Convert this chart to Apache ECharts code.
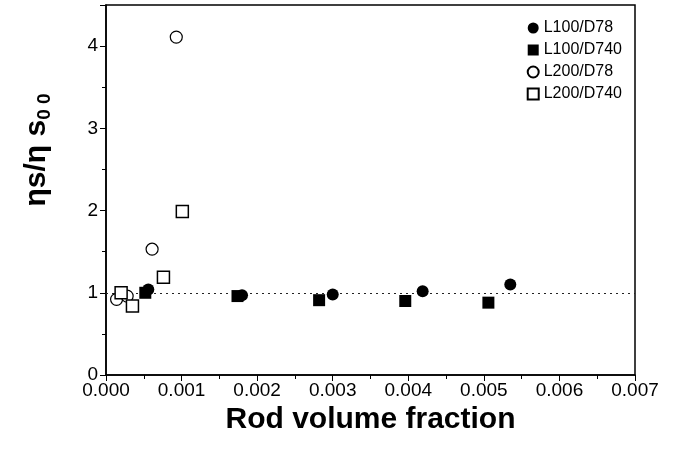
<!DOCTYPE html>
<html>
<head>
<meta charset="utf-8">
<script src="https://cdn.jsdelivr.net/npm/echarts@6/dist/echarts.min.js"></script>
<style>
  html, body { margin: 0; padding: 0; background: #fff; }
  #chart { width: 673px; height: 449px; }
</style>
</head>
<body>
<div id="chart"></div>
<script>
// values: [rod volume fraction, eta ratio]
const L100_D78 = [[0.00056, 1.04], [0.0018, 0.97], [0.0030, 0.98], [0.00419, 1.02], [0.00535, 1.10]];
const L100_D740 = [[0.00052, 1.00], [0.00174, 0.96], [0.00282, 0.91], [0.00396, 0.90], [0.00506, 0.88]];
const L200_D78 = [[0.00014, 0.92], [0.00028, 0.96], [0.00061, 1.53], [0.00093, 4.11]];
const L200_D740 = [[0.0002, 1.00], [0.00035, 0.84], [0.00076, 1.19], [0.00101, 1.99]];
const refLine = 1;

const font = "Liberation Sans, Arial, sans-serif";

function drawChart() {
    let myChart = echarts.init(document.querySelector("#chart"));
    const option = {
        animation: false,
        backgroundColor: "#fff",
        grid: { left: 106, right: 38, top: 5, bottom: 74, outerBoundsMode: "none" },
        legend: {
            orient: "vertical",
            right: 46,
            top: 15,
            itemGap: 6,
            itemWidth: 11,
            itemHeight: 11,
            textStyle: { fontFamily: font, fontSize: 16, color: "#000" },
            data: [
                { name: "L100/D78", icon: "circle" },
                { name: "L100/D740", icon: "rect" },
                { name: "L200/D78", icon: "circle" },
                { name: "L200/D740", icon: "rect" },
            ],
        },
        xAxis: {
            type: "value",
            min: 0,
            max: 0.007,
            interval: 0.001,
            name: "Rod volume fraction",
            nameLocation: "middle",
            nameGap: 23,
            nameTextStyle: { fontFamily: font, fontSize: 30, fontWeight: "bold", color: "#000" },
            axisLine: { onZero: false, lineStyle: { color: "#000", width: 1.5 } },
            axisTick: { inside: false, length: 6, lineStyle: { color: "#000" } },
            minorTick: { show: true, splitNumber: 2, length: 4, lineStyle: { color: "#000" } },
            axisLabel: {
                fontFamily: font, fontSize: 19, color: "#000", margin: 6,
                formatter: (v) => v.toFixed(3),
            },
            splitLine: { show: false },
        },
        yAxis: {
            type: "value",
            min: 0,
            max: 4.5,
            interval: 1,
            name: "{m|ηs/η s}{sub|0 0}",
            nameLocation: "middle",
            nameGap: 52,
            nameRotate: 90,
            nameTextStyle: {
                padding: [0, 0, 0, 80],
                rich: {
                    m: { fontFamily: font, fontSize: 30, fontWeight: "bold", color: "#000" },
                    sub: { fontFamily: font, fontSize: 19, fontWeight: "bold", color: "#000", verticalAlign: "bottom", padding: [16, 0, 0, 0] },
                },
            },
            axisLine: { onZero: false, lineStyle: { color: "#000", width: 1.5 } },
            axisTick: { inside: false, length: 6, lineStyle: { color: "#000" } },
            minorTick: { show: true, splitNumber: 2, length: 4, lineStyle: { color: "#000" } },
            axisLabel: { fontFamily: font, fontSize: 19, color: "#000", margin: 8, showMaxLabel: false },
            splitLine: { show: false },
        },
        series: [
            {
                name: "L100/D78",
                type: "scatter",
                symbol: "circle",
                symbolSize: 12,
                itemStyle: { color: "#000", opacity: 1 },
                data: L100_D78,
                z: 3,
                markLine: {
                    silent: true,
                    symbol: "none",
                    label: { show: false },
                    lineStyle: { color: "#222", type: [2, 4], width: 1 },
                    data: [{ yAxis: refLine }],
                    z: 1,
                },
            },
            {
                name: "L100/D740",
                type: "scatter",
                symbol: "rect",
                symbolSize: 12,
                itemStyle: { color: "#000", opacity: 1 },
                data: L100_D740,
            },
            {
                name: "L200/D78",
                type: "scatter",
                symbol: "circle",
                symbolSize: 12,
                itemStyle: { color: "#fff", borderColor: "#000", borderWidth: 1.2, opacity: 1 },
                data: L200_D78,
            },
            {
                name: "L200/D740",
                type: "scatter",
                symbol: "rect",
                symbolSize: 12,
                itemStyle: { color: "#fff", borderColor: "#000", borderWidth: 1.5, opacity: 1 },
                data: L200_D740,
            },
        ],
        graphic: [
            {
                type: "rect",
                shape: { x: 106, y: 5, width: 529, height: 370 },
                style: { fill: "none", stroke: "#000", lineWidth: 1.5 },
                silent: true,
                z: 0,
            },
        ],
    };
    myChart.setOption(option);
    window.addEventListener("resize", function () {
        myChart.resize();
    });
}

drawChart();
</script>
</body>
</html>
